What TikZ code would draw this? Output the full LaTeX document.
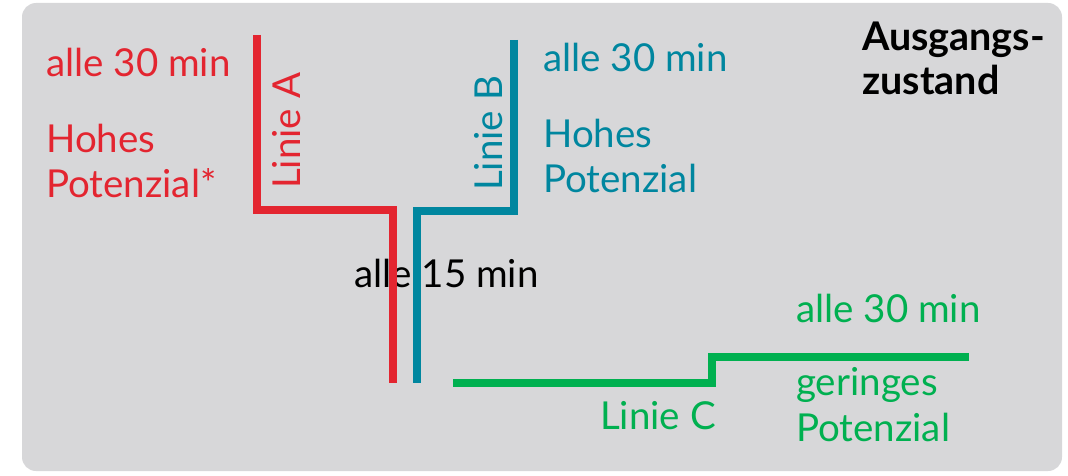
\documentclass[tikz,border=0pt]{standalone}
\usepackage{fontspec}
\setmainfont{Lato}
\usetikzlibrary{positioning}
\definecolor{linered}{RGB}{227,37,48}
\definecolor{lineblue}{RGB}{0,134,159}
\definecolor{linegreen}{RGB}{0,176,80}
\definecolor{panelgray}{RGB}{215,215,217}
\begin{document}
\begin{tikzpicture}[x=1pt,y=-1pt,
	route/.style={line width=8pt},
	lbl/.style={anchor=base west,inner sep=0pt,font=\fontsize{38.5}{45}\selectfont}]
	\useasboundingbox (0,0) rectangle (1068,476);
	\fill[panelgray,rounded corners=14pt] (22,3) rectangle (1062,471);
	
	% Linie A
	\node[lbl,linered] (Afreq) at (46,77) {alle 30 min};
	\node[lbl,linered] (Apot1) at (46,153) {Hohes};
	\node[lbl,linered] (Apot2) at (46,197) {Potenzial*};
	\node[lbl,linered,rotate=90] (Aname) at (300,189) {Linie A};
	
	% Linie B
	\node[lbl,lineblue] (Bfreq) at (543,72) {alle 30 min};
	\node[lbl,lineblue] (Bpot1) at (543,147) {Hohes};
	\node[lbl,lineblue] (Bpot2) at (543,192) {Potenzial};
	\node[lbl,lineblue,rotate=90] (Bname) at (502,191) {Linie B};
	
	% Linie C
	\node[lbl,linegreen] (Cfreq) at (796,322) {alle 30 min};
	\node[lbl,linegreen] (Cpot1) at (796,395) {geringes};
	\node[lbl,linegreen] (Cpot2) at (796,441) {Potenzial};
	\node[lbl,linegreen] (Cname) at (600,429) {Linie C};
	
	\node[lbl] (ABfreq) at (354,287) {alle 15 min};
	\node[lbl,font=\fontsize{39.5}{45}\bfseries] (state1) at (862,51) {Ausgangs-};
	\node[lbl,font=\fontsize{39.5}{45}\bfseries] (state2) at (862,95) {zustand};
	
	\coordinate (A1) at (257,35);  \coordinate (A2) at (257,210);
	\coordinate (A3) at (393,210); \coordinate (A4) at (393,383);
	\coordinate (B1) at (514,40);  \coordinate (B2) at (514,211);
	\coordinate (B3) at (417,211); \coordinate (B4) at (417,383);
	\coordinate (C1) at (453,383); \coordinate (C2) at (712,383);
	\coordinate (C3) at (712,357); \coordinate (C4) at (969,357);
	
	\draw[route,linered] (A1) -- (A2) -- (A3) -- (A4);
	\draw[route,lineblue] (B1) -- (B2) -- (B3) -- (B4);
	\draw[route,linegreen] (C1) -- (C2) -- (C3) -- (C4);
\end{tikzpicture}
\end{document}
